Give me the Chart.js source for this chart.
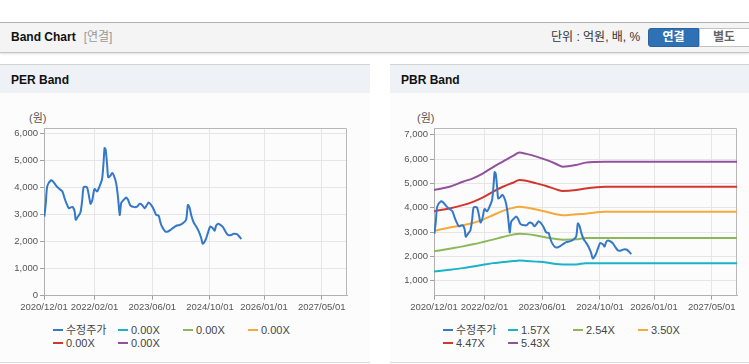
<!DOCTYPE html>
<html><head><meta charset="utf-8">
<script src="https://cdn.jsdelivr.net/npm/chart.js@4/dist/chart.umd.min.js"></script>
<style>
html,body{margin:0;padding:0;}
body{width:749px;height:364px;overflow:hidden;background:#fff;position:relative;font-family:'Liberation Sans','Noto Sans CJK KR',sans-serif;color:#333;}
.abs{position:absolute;}
#top{left:0;top:22px;width:749px;height:29px;background:#f4f4f4;border-top:1px solid #b3b3b3;border-bottom:1px solid #c4c4c4;box-shadow:0 1px 2px rgba(0,0,0,0.12);}
#title{left:11px;top:0;line-height:29px;font-size:12px;font-weight:bold;color:#111;white-space:nowrap;}
#title span{font-weight:normal;color:#999;margin-left:8px;}
#unit{left:551px;top:0;line-height:29px;font-size:12px;color:#333;white-space:nowrap;}
#btn1{left:648px;top:5px;width:51px;height:19px;background:#2f71b5;border:1px solid #2a63a0;box-sizing:border-box;border-radius:3px 0 0 3px;color:#fff;font-weight:bold;font-size:12px;line-height:17px;text-align:center;}
#btn2{left:699px;top:5px;width:56px;height:19px;background:#fff;border:1px solid #c2c2c2;box-sizing:border-box;color:#666;font-weight:bold;font-size:12px;line-height:17px;text-align:center;padding-right:6px;}
.panel{top:64px;width:370px;height:297px;background:#fcfcfc;border-top:1px solid #d2d2d2;border-bottom:1px solid #dadada;}
.phead{left:0;top:0;width:370px;height:28px;background:#eef2f7;}
.ptitle{left:11px;top:1px;line-height:29px;font-size:12px;font-weight:bold;color:#111;}
.unitlbl{top:111px;font-size:11px;color:#555;line-height:14px;}
.cwrap{top:100px;width:370px;height:220px;}
.lg{font-size:11px;color:#444;line-height:13px;white-space:nowrap;}
.lm{height:2px;width:10px;}
</style></head>
<body>
<div id="top" class="abs">
  <div id="title" class="abs">Band Chart<span>[연결]</span></div>
  <div id="unit" class="abs">단위 : 억원, 배, %</div>
  <div id="btn1" class="abs">연결</div>
  <div id="btn2" class="abs">별도</div>
</div>
<div class="panel abs" style="left:0;"><div class="phead abs"></div><div class="ptitle abs">PER Band</div></div>
<div class="panel abs" style="left:390px;"><div class="phead abs"></div><div class="ptitle abs">PBR Band</div></div>
<div class="unitlbl abs" style="left:29px;">(원)</div>
<div class="unitlbl abs" style="left:417px;">(원)</div>
<div class="cwrap abs" style="left:0;"><canvas id="per" width="370" height="220"></canvas></div>
<div class="cwrap abs" style="left:390px;"><canvas id="pbr" width="370" height="220"></canvas></div>
<div id="legends"></div>
<script>
// ---- x axis: months since 2020/12/01 ----
const xTickMonths = [0, 14, 30, 46, 61, 77];
const xTickLabels = ['2020/12/01', '2022/02/01', '2023/06/01', '2024/10/01', '2026/01/01', '2027/05/01'];
const xMaxMonth = 84;

// ---- price (수정주가) ----
const priceMonths = [
  0.1, 0.5, 0.9, 1.9, 2.5, 3.4, 4.3, 5.1, 5.7, 6.2,
  6.9, 7.6, 8.0, 8.5, 8.8, 9.4, 10.1, 10.6, 11.0, 11.9,
  12.5, 12.9, 13.4, 14.0, 14.7, 15.4, 16.1, 16.5, 16.8, 17.1,
  17.5, 17.8, 18.4, 18.9, 19.4, 20.0, 20.5, 21.0, 21.4, 22.1,
  22.8, 23.3, 24.0, 25.1, 25.8, 26.5, 27.2, 27.9, 28.4, 29.0,
  29.7, 30.4, 31.1, 31.8, 32.2, 32.7, 33.6, 34.4, 35.1, 35.7,
  36.7, 37.6, 38.5, 39.4, 39.9, 40.4, 40.8, 41.5, 42.2, 42.9,
  43.6, 44.0, 44.8, 45.4, 46.1, 46.8, 47.3, 47.7, 48.2, 48.9,
  49.6, 50.3, 51.0, 51.9, 52.6, 53.5, 54.0, 54.7];
const priceValues = [
  2930, 3430, 4050, 4270, 4230, 4070, 3950, 3860, 3610, 3430,
  3240, 3280, 3280, 3120, 2810, 2930, 3080, 3550, 4020, 4020,
  3670, 3400, 3550, 3950, 3860, 4050, 4320, 4910, 5470, 5400,
  4850, 4390, 4440, 4540, 4440, 4170, 3670, 2990, 3430, 3550,
  3640, 3550, 3330, 3280, 3300, 3400, 3360, 3240, 3330, 3450,
  3360, 3200, 2990, 2960, 2750, 2560, 2380, 2380, 2440, 2500,
  2590, 2620, 2680, 2810, 3360, 3240, 2990, 2710, 2560, 2380,
  2130, 1920, 2070, 2310, 2560, 2500, 2410, 2590, 2660, 2620,
  2540, 2380, 2250, 2250, 2290, 2280, 2210, 2100];

// ---- PBR bands ----
const bandMonths = [0, 4.3, 8.0, 10.8, 13.6, 16.3, 19.1, 21.9, 23.7, 25.6, 28.4, 31.1, 33.9, 35.7, 39.4, 42.0, 47.5, 84];
const pbr157 = [1385, 1454, 1523, 1592, 1661, 1728, 1770, 1811, 1835, 1820, 1790, 1757, 1690, 1674, 1674, 1728, 1728, 1728];
const pbr254 = [2211, 2321, 2417, 2500, 2596, 2693, 2802, 2899, 2940, 2920, 2860, 2780, 2720, 2693, 2706, 2761, 2761, 2761];
const pbr350 = [3050, 3188, 3284, 3380, 3518, 3697, 3874, 3999, 4041, 4010, 3930, 3840, 3739, 3697, 3739, 3760, 3834, 3834];
const pbr447 = [3862, 3973, 4110, 4247, 4427, 4660, 4866, 5032, 5142, 5114, 5004, 4895, 4757, 4688, 4729, 4798, 4866, 4866];
const pbr543 = [4730, 4867, 5073, 5211, 5418, 5665, 5899, 6133, 6272, 6216, 6105, 5968, 5803, 5692, 5762, 5857, 5898, 5898];

const perLabels = ['수정주가', '0.00X', '0.00X', '0.00X', '0.00X', '0.00X'];
const pbrLabels = ['수정주가', '1.57X', '2.54X', '3.50X', '4.47X', '5.43X'];
const colors = ['#3478c8', '#19b4c8', '#8db85a', '#f4a93a', '#d2362f', '#92519c'];

const perYTicks = [0, 1000, 2000, 3000, 4000, 5000, 6000];
const pbrYTicks = [1000, 2000, 3000, 4000, 5000, 6000, 7000];

function pts(xs, ys) { return xs.map((x, i) => ({ x: x, y: ys[i] })); }

const framePlugin = {
  id: 'frame',
  beforeDatasetsDraw(chart) {
    const a = chart.chartArea, ctx = chart.ctx;
    ctx.save();
    ctx.strokeStyle = '#b8b8b8';
    ctx.lineWidth = 1;
    ctx.beginPath();
    ctx.moveTo(Math.round(a.left), Math.round(a.top) + 0.5);
    ctx.lineTo(Math.round(a.right) - 0.5, Math.round(a.top) + 0.5);
    ctx.lineTo(Math.round(a.right) - 0.5, Math.round(a.bottom));
    ctx.stroke();
    ctx.restore();
  }
};

function makeChart(id, labels, seriesList, yTicks, yMin, yMax) {
  const datasets = labels.map((lab, i) => ({
    label: lab,
    data: seriesList[i],
    borderColor: colors[i],
    backgroundColor: colors[i],
    borderWidth: 2,
    pointRadius: 0,
    fill: false,
    tension: i === 0 ? 0.25 : 0,
    cubicInterpolationMode: i === 0 ? 'default' : 'monotone'
  }));
  const tickFont = { family: "'Liberation Sans', sans-serif", size: 9.5 };
  return new Chart(document.getElementById(id), {
    type: 'line',
    data: { datasets: datasets },
    plugins: [framePlugin],
    options: {
      responsive: false,
      devicePixelRatio: 1,
      animation: false,
      layout: { padding: { top: 28, right: 23, left: 0, bottom: 0 } },
      plugins: { legend: { display: false }, tooltip: { enabled: false } },
      scales: {
        x: {
          type: 'linear', min: 0, max: xMaxMonth,
          afterBuildTicks: s => { s.ticks = xTickMonths.map(v => ({ value: v })); },
          afterFit: s => { s.height = 24.3; },
          grid: { color: '#e6e6e6', tickColor: '#a0a0a0', tickLength: 4 },
          border: { color: '#b0b0b0' },
          ticks: { autoSkip: false, maxRotation: 0, padding: 2, color: '#555', font: tickFont,
                   callback: (v, i) => xTickLabels[i] }
        },
        y: {
          type: 'linear', min: yMin, max: yMax,
          afterBuildTicks: s => { s.ticks = yTicks.map(v => ({ value: v })); },
          afterFit: s => { s.width = 44; },
          grid: { color: '#e6e6e6', tickColor: '#a0a0a0', tickLength: 4 },
          border: { color: '#b0b0b0' },
          ticks: { padding: 2, color: '#555', font: tickFont,
                   callback: v => v.toLocaleString('en-US') }
        }
      }
    }
  });
}

const perChart = makeChart('per', perLabels,
  [pts(priceMonths, priceValues), [], [], [], [], []], perYTicks, 0, 6210);
const pbrChart = makeChart('pbr', pbrLabels,
  [pts(priceMonths, priceValues), pts(bandMonths, pbr157), pts(bandMonths, pbr254),
   pts(bandMonths, pbr350), pts(bandMonths, pbr447), pts(bandMonths, pbr543)], pbrYTicks, 390, 7280);

function buildLegend(chart, offsetX) {
  const host = document.getElementById('legends');
  chart.data.datasets.forEach((ds, i) => {
    const col = i % 4, row = Math.floor(i / 4);
    const x = offsetX + 52.7 + col * 65;
    const yc = 330 + row * 13.3;
    const m = document.createElement('div');
    m.className = 'abs lm';
    m.style.left = x + 'px'; m.style.top = (yc - 1) + 'px'; m.style.background = ds.borderColor;
    const t = document.createElement('div');
    t.className = 'abs lg';
    t.style.left = (x + 13.3) + 'px'; t.style.top = (yc - 6.5) + 'px';
    t.textContent = ds.label;
    host.appendChild(m); host.appendChild(t);
  });
}
buildLegend(perChart, 0);
buildLegend(pbrChart, 390);
</script>
</body></html>
